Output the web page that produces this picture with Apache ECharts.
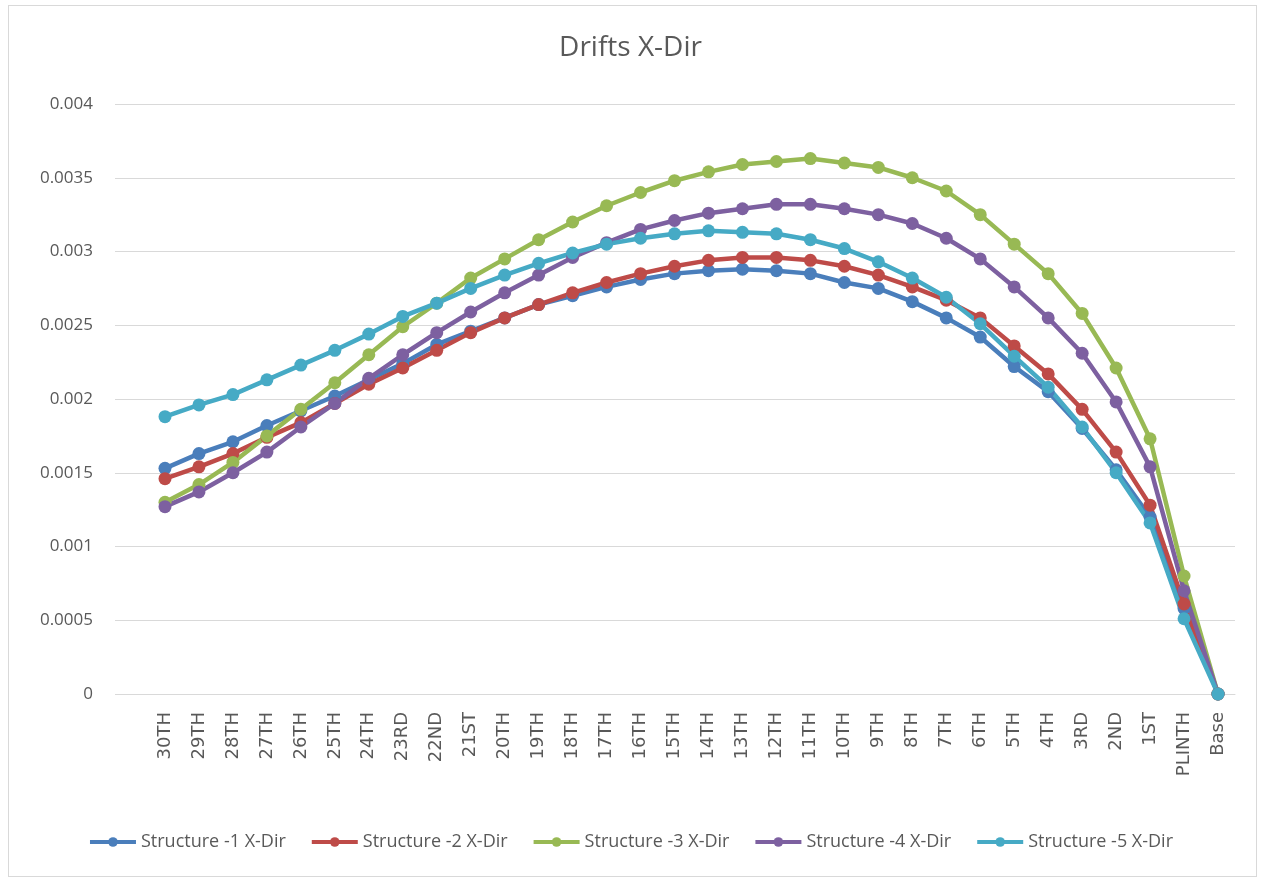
<!DOCTYPE html>
<html>
<head>
<meta charset="utf-8">
<script src="https://cdn.jsdelivr.net/npm/echarts@6/dist/echarts.min.js"></script>
<style>
html,body{margin:0;padding:0;background:#fff;}
#frame{position:absolute;left:8px;top:5px;width:1249px;height:872px;border:1px solid #d9d9d9;box-sizing:border-box;}
#chart{position:absolute;left:0;top:0;width:1261px;height:880px;}
</style>
</head>
<body>
<div id="frame"></div>
<div id="chart"></div>
<script>
const categories = ['30TH','29TH','28TH','27TH','26TH','25TH','24TH','23RD','22ND','21ST','20TH','19TH','18TH','17TH','16TH','15TH','14TH','13TH','12TH','11TH','10TH','9TH','8TH','7TH','6TH','5TH','4TH','3RD','2ND','1ST','PLINTH','Base'];
const seriesNames = ['Structure -1 X-Dir','Structure -2 X-Dir','Structure -3 X-Dir','Structure -4 X-Dir','Structure -5 X-Dir'];
const structure1 = [0.00153,0.00163,0.00171,0.00182,0.00192,0.00202,0.00213,0.00224,0.00237,0.00246,0.00255,0.00264,0.0027,0.00276,0.00281,0.00285,0.00287,0.00288,0.00287,0.00285,0.00279,0.00275,0.00266,0.00255,0.00242,0.00222,0.00205,0.0018,0.00152,0.0012,0.00058,0];
const structure2 = [0.00146,0.00154,0.00163,0.00174,0.00184,0.00197,0.0021,0.00221,0.00233,0.00245,0.00255,0.00264,0.00272,0.00279,0.00285,0.0029,0.00294,0.00296,0.00296,0.00294,0.0029,0.00284,0.00276,0.00267,0.00255,0.00236,0.00217,0.00193,0.00164,0.00128,0.00061,0];
const structure3 = [0.0013,0.00142,0.00157,0.00175,0.00193,0.00211,0.0023,0.00249,0.00265,0.00282,0.00295,0.00308,0.0032,0.00331,0.0034,0.00348,0.00354,0.00359,0.00361,0.00363,0.0036,0.00357,0.0035,0.00341,0.00325,0.00305,0.00285,0.00258,0.00221,0.00173,0.0008,0];
const structure4 = [0.00127,0.00137,0.0015,0.00164,0.00181,0.00197,0.00214,0.0023,0.00245,0.00259,0.00272,0.00284,0.00296,0.00306,0.00315,0.00321,0.00326,0.00329,0.00332,0.00332,0.00329,0.00325,0.00319,0.00309,0.00295,0.00276,0.00255,0.00231,0.00198,0.00154,0.0007,0];
const structure5 = [0.00188,0.00196,0.00203,0.00213,0.00223,0.00233,0.00244,0.00256,0.00265,0.00275,0.00284,0.00292,0.00299,0.00305,0.00309,0.00312,0.00314,0.00313,0.00312,0.00308,0.00302,0.00293,0.00282,0.00269,0.00251,0.00229,0.00208,0.00181,0.0015,0.00116,0.00051,0];
const yTicks = [0,0.0005,0.001,0.0015,0.002,0.0025,0.003,0.0035,0.004];
const colors = ['#4a7ebb','#be4b48','#98b954','#7d60a0','#46aac5'];
const allData = [structure1,structure2,structure3,structure4,structure5];

const chart = echarts.init(document.getElementById('chart'));
const fontLbl = "'Open Sans', 'Noto Sans', sans-serif";
chart.setOption({
  backgroundColor: 'transparent',
  animation: false,
  color: colors,
  title: {
    text: 'Drifts X-Dir',
    left: 'center',
    top: 29,
    textStyle: {fontFamily: "'Open Sans', sans-serif", fontWeight: 'normal', fontSize: 28, color: '#595959'}
  },
  legend: {
    bottom: 24,
    left: 'center',
    itemWidth: 46,
    itemHeight: 12,
    itemGap: 24,
    data: seriesNames,
    lineStyle: {width: 4},
    textStyle: {fontFamily: "'Liberation Sans Narrow', 'Open Sans', sans-serif", fontSize: 18, color: '#595959'}
  },
  grid: [
    {left: 115, right: 26, top: 104, bottom: 186},
    {left: 148, right: 26, top: 104, bottom: 186}
  ],
  xAxis: [
    {gridIndex: 0, type: 'category', data: [''], show: false},
    {
      gridIndex: 1,
      type: 'category',
      data: categories,
      boundaryGap: true,
      axisLine: {show: true, lineStyle: {color: '#d9d9d9', width: 1}},
      axisTick: {show: false},
      axisLabel: {rotate: 90, interval: 0, margin: 18, fontFamily: "'DejaVu Sans', sans-serif", fontSize: 18, color: '#595959'}
    }
  ],
  yAxis: [
    {
      gridIndex: 0,
      type: 'value',
      min: 0, max: 0.004, interval: 0.0005,
      axisLine: {show: false},
      axisTick: {show: false},
      splitLine: {show: true, lineStyle: {color: '#d9d9d9', width: 1}},
      axisLabel: {margin: 22, fontFamily: fontLbl, fontSize: 17, color: '#595959',
        formatter: function (v) { return String(parseFloat(v.toFixed(4))); }}
    },
    {
      gridIndex: 1,
      type: 'value',
      min: 0, max: 0.004, interval: 0.0005,
      show: false,
      splitLine: {show: false}
    }
  ],
  series: allData.map(function (d, i) {
    return {
      name: seriesNames[i],
      type: 'line',
      xAxisIndex: 1,
      yAxisIndex: 1,
      data: d,
      symbol: 'circle',
      symbolSize: 13,
      lineStyle: {width: 4.5, color: colors[i]},
      itemStyle: {color: colors[i]}
    };
  })
});
</script>
</body>
</html>
